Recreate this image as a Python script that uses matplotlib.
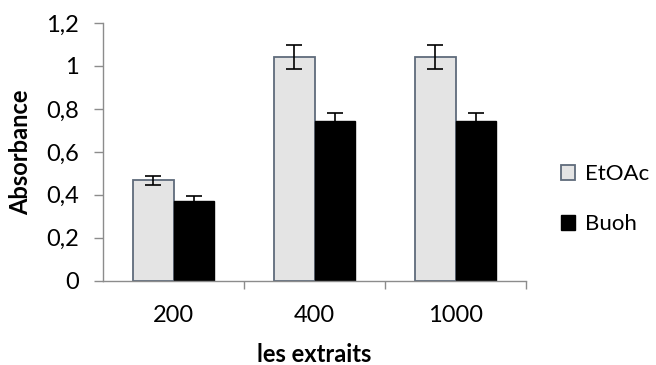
import matplotlib
matplotlib.use("Agg")
import matplotlib.pyplot as plt
import numpy as np

categories = ["200", "400", "1000"]
etoac = [0.467, 1.042, 1.042]
etoac_err = [0.022, 0.055, 0.055]
buoh = [0.372, 0.742, 0.742]
buoh_err = [0.022, 0.038, 0.038]
yticks = [0, 0.2, 0.4, 0.6, 0.8, 1.0, 1.2]
ytick_labels = ["0", "0,2", "0,4", "0,6", "0,8", "1", "1,2"]

plt.rcParams["font.family"] = ["Lato", "DejaVu Sans"]

fig = plt.figure(figsize=(6.56, 3.65), dpi=100)
ax = fig.add_axes([103 / 656, 1 - 280.7 / 365, 423 / 656, 257.7 / 365])

x = np.arange(len(categories))
w = 0.287
grey = "#8c8c8c"

ax.bar(x - w / 2, etoac, width=w, color="#e4e4e4", edgecolor="#5f6b7b",
       linewidth=1.3, zorder=2, label="EtOAc")
ax.bar(x + w / 2, buoh, width=w, color="black", edgecolor="black",
       linewidth=1.0, zorder=2, label="Buoh")
ax.errorbar(x - w / 2, etoac, yerr=etoac_err, fmt="none", ecolor="black",
            elinewidth=1.2, capsize=6, capthick=1.2, zorder=3)
ax.errorbar(x + w / 2, buoh, yerr=buoh_err, fmt="none", ecolor="black",
            elinewidth=1.2, capsize=6, capthick=1.2, zorder=3)

ax.set_xlim(-0.5, 2.5)
ax.set_ylim(0, 1.2)

ax.set_yticks(yticks)
ax.set_yticklabels(ytick_labels)
ax.set_xticks(x)
ax.set_xticklabels(categories)
ax.set_xticks([0.5, 1.5, 2.5], minor=True)

ax.tick_params(axis="y", direction="out", length=6.5, color=grey, width=1,
               labelsize=17, pad=11)
ax.tick_params(axis="x", which="major", length=0, labelsize=17, pad=17.5)
ax.tick_params(axis="x", which="minor", direction="out", length=6,
               color=grey, width=1)

for side in ("top", "right"):
    ax.spines[side].set_visible(False)
for side in ("left", "bottom"):
    ax.spines[side].set_color(grey)
    ax.spines[side].set_linewidth(1.0)

ax.set_ylabel("Absorbance", fontsize=17, fontweight="bold", labelpad=10)
ax.set_xlabel("les extraits", fontsize=17, fontweight="bold", labelpad=12)

leg = fig.legend(loc="center left", bbox_to_anchor=(561 / 656, 1 - 199 / 365),
                 frameon=False, fontsize=16, handlelength=0.65,
                 handleheight=0.65, handletextpad=0.45, labelspacing=1.35,
                 borderpad=0, borderaxespad=0)

fig.savefig("out.png", dpi=100)
